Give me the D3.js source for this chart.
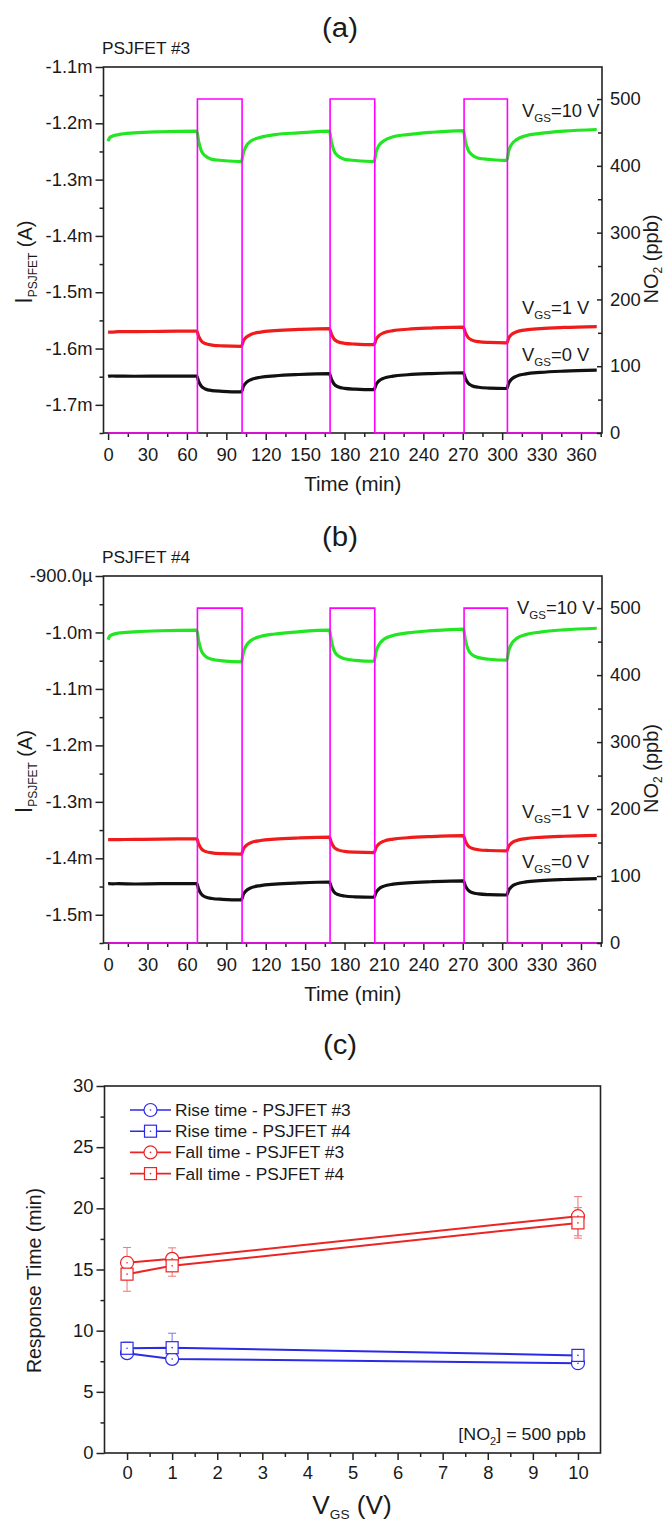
<!DOCTYPE html>
<html>
<head>
<meta charset="utf-8">
<script src="https://cdn.jsdelivr.net/npm/d3@7"></script>
<style>
  body { margin: 0; background: #fff; }
  svg { display: block; }
  text { font-family: "Liberation Sans", Arial, sans-serif; fill: #1a1a1a; }
</style>
</head>
<body>
<svg id="chart" width="670" height="1526"></svg>
<script>
// ---------- data ----------
// sample times (min) shared by all six current traces
const timeKnots = [
  0, 1, 3, 8, 20, 40, 67.5,
  69, 71, 74, 79, 87, 101.5,
  103, 105, 109, 116, 127, 145, 168.5,
  170, 172, 175, 180, 188, 202.5,
  204, 206, 210, 217, 228, 246, 270.5,
  272, 274, 277, 282, 290, 303.5,
  305, 307, 311, 318, 329, 347, 372
];

// PSJFET #3, current in mA
const greenA = [
  -1.232, -1.226, -1.223, -1.220, -1.217, -1.215, -1.214,
  -1.233, -1.249, -1.258, -1.264, -1.266, -1.268,
  -1.252, -1.241, -1.231, -1.225, -1.220, -1.217, -1.214,
  -1.233, -1.249, -1.258, -1.264, -1.266, -1.268,
  -1.251, -1.240, -1.231, -1.224, -1.220, -1.216, -1.213,
  -1.232, -1.247, -1.256, -1.262, -1.264, -1.266,
  -1.249, -1.238, -1.229, -1.222, -1.218, -1.214, -1.211
];
const redA = [
  -1.571, -1.571, -1.571, -1.570, -1.570, -1.5695, -1.569,
  -1.5785, -1.5866, -1.5911, -1.5938, -1.5952, -1.596,
  -1.5865, -1.5803, -1.5746, -1.5708, -1.5683, -1.5661, -1.5645,
  -1.5745, -1.583, -1.5879, -1.5907, -1.5921, -1.593,
  -1.5837, -1.5775, -1.5719, -1.5682, -1.5657, -1.5636, -1.562,
  -1.5718, -1.5802, -1.585, -1.5878, -1.5892, -1.590,
  -1.5813, -1.5755, -1.5703, -1.5668, -1.5645, -1.5625, -1.561
];
const blackA = [
  -1.6495, -1.649, -1.6488, -1.649, -1.6492, -1.649, -1.6488,
  -1.6586, -1.667, -1.6718, -1.6746, -1.676, -1.677,
  -1.6673, -1.6608, -1.6549, -1.651, -1.6484, -1.6461, -1.6445,
  -1.6545, -1.663, -1.6679, -1.6707, -1.6721, -1.673,
  -1.664, -1.658, -1.6526, -1.649, -1.6466, -1.6445, -1.643,
  -1.6528, -1.6612, -1.666, -1.6688, -1.6702, -1.671,
  -1.6613, -1.6548, -1.6489, -1.645, -1.6424, -1.6401, -1.6385
];

// PSJFET #4, current in mA
const greenB = [
  -1.013, -1.007, -1.004, -1.001, -0.999, -0.997, -0.996,
  -1.0156, -1.0324, -1.0419, -1.0475, -1.0503, -1.052,
  -1.0352, -1.024, -1.0139, -1.0072, -1.0027, -0.9988, -0.996,
  -1.0153, -1.0318, -1.0411, -1.0466, -1.0494, -1.051,
  -1.0339, -1.0225, -1.0122, -1.0054, -1.0008, -0.9969, -0.994,
  -1.0133, -1.0298, -1.0391, -1.0446, -1.0474, -1.049,
  -1.032, -1.0208, -1.0106, -1.0038, -0.9993, -0.9953, -0.9925
];
const redB = [
  -1.367, -1.367, -1.367, -1.3668, -1.3665, -1.366, -1.3655,
  -1.375, -1.383, -1.3877, -1.3903, -1.3917, -1.3925,
  -1.3835, -1.3775, -1.3721, -1.3685, -1.3661, -1.364, -1.3625,
  -1.3721, -1.3804, -1.3851, -1.3878, -1.3892, -1.390,
  -1.381, -1.375, -1.3696, -1.366, -1.3636, -1.3615, -1.360,
  -1.3695, -1.3776, -1.3821, -1.3848, -1.3862, -1.387,
  -1.3788, -1.3733, -1.3683, -1.365, -1.3628, -1.3609, -1.3595
];
const blackB = [
  -1.445, -1.4448, -1.4452, -1.445, -1.4455, -1.445, -1.445,
  -1.455, -1.4635, -1.4684, -1.4712, -1.4726, -1.4735,
  -1.464, -1.4578, -1.452, -1.4483, -1.4458, -1.4436, -1.442,
  -1.4515, -1.4596, -1.4641, -1.4668, -1.4682, -1.469,
  -1.4603, -1.4545, -1.4493, -1.4458, -1.4435, -1.4415, -1.440,
  -1.4488, -1.4563, -1.4605, -1.463, -1.4643, -1.465,
  -1.4563, -1.4505, -1.4453, -1.4418, -1.4395, -1.4375, -1.436
];

// NO2 exposure (ppb)
const pulseOn = [68, 169, 271];
const pulseOff = [102, 203, 304];
const pulseLevel = 500;
const traceEnd = 372;

// axes of the two time panels
const timeDomain = [-3.5, 376];
const timeTicks = [0, 30, 60, 90, 120, 150, 180, 210, 240, 270, 300, 330, 360];
const timeMinor = [15, 45, 75, 105, 135, 165, 195, 225, 255, 285, 315, 345, 375];
const no2Domain = [0, 548];
const no2Ticks = [0, 100, 200, 300, 400, 500];
const no2Minor = [50, 150, 250, 350, 450];

const currentDomainA = [-1.75, -1.1];
const currentTicksA = [-1.7, -1.6, -1.5, -1.4, -1.3, -1.2, -1.1];
const currentLabelsA = ["-1.7m", "-1.6m", "-1.5m", "-1.4m", "-1.3m", "-1.2m", "-1.1m"];
const currentMinorA = [-1.75, -1.65, -1.55, -1.45, -1.35, -1.25, -1.15];

const currentDomainB = [-1.55, -0.9];
const currentTicksB = [-1.5, -1.4, -1.3, -1.2, -1.1, -1.0, -0.9];
const currentLabelsB = ["-1.5m", "-1.4m", "-1.3m", "-1.2m", "-1.1m", "-1.0m", "-900.0\u00b5"];
const currentMinorB = [-1.55, -1.45, -1.35, -1.25, -1.15, -1.05, -0.95];

// response times (min) vs gate voltage
const vgs = [0, 1, 10];
const riseP3 = [8.16, 7.69, 7.34];
const riseP3Err = [0.2, 0.15, 0.15];
const riseP4 = [8.56, 8.61, 7.98];
const riseP4Err = [0.5, 1.18, 0.2];
const fallP3 = [15.55, 15.87, 19.36];
const fallP3Err = [1.25, 0.9, 1.6];
const fallP4 = [14.62, 15.3, 18.81];
const fallP4Err = [1.4, 0.85, 1.25];

const vgsDomain = [-0.5, 10.5];
const vgsTicks = [0, 1, 2, 3, 4, 5, 6, 7, 8, 9, 10];
const vgsMinor = [0.5, 1.5, 2.5, 3.5, 4.5, 5.5, 6.5, 7.5, 8.5, 9.5];
const respDomain = [0, 30];
const respTicks = [0, 5, 10, 15, 20, 25, 30];
const respMinor = [2.5, 7.5, 12.5, 17.5, 22.5, 27.5];

// ---------- drawing ----------
const svg = d3.select("#chart");
const S = 1.05; // the lettering in the figure is a bit wider than the font
const axisColor = "#222";
const green = "#22e622", red = "#ef1c1c", black = "#111", magenta = "#ff00ff";
const blue = "#2b2be6", redC = "#ec2424";
const tickFont = 17.5;

// text made of tspans: parts = [[string, size, dy], ...]
function label(g, x, y, parts, opt = {}) {
	let tf = `translate(${x},${y}) scale(${S},1)`;
	if (opt.rotate) tf += ` rotate(${opt.rotate})`;
	const t = g.append("text")
		.attr("transform", tf)
		.attr("text-anchor", opt.anchor || "start");
	parts.forEach(p => {
		t.append("tspan")
			.attr("font-size", p[1])
			.attr("dy", p[2] || 0)
			.text(p[0]);
	});
	return t;
}

function styleAxis(sel) {
	sel.select(".domain").remove();
	sel.attr("font-family", null).attr("font-size", tickFont).attr("color", axisColor);
	sel.selectAll(".tick line").attr("stroke-width", 1.5);
	sel.selectAll(".tick text").each(function () {
		const t = d3.select(this);
		t.attr("x", (+t.attr("x") || 0) / S).attr("transform", `scale(${S},1)`);
	});
}

const vLabel = (eq) => [["V", 17.5], ["GS", 11, 5], [eq, 17.5, -5]];

function timePanel(p) {
	const left = 103.5, right = 602;
	const g = svg.append("g");
	const x = d3.scaleLinear().domain(timeDomain).range([left, right]);
	const y = d3.scaleLinear().domain(p.yDomain).range([p.bottom, p.top]);
	const y2 = d3.scaleLinear().domain(no2Domain).range([p.bottom, p.top]);

	// axes
	g.append("g").attr("transform", `translate(${left},0)`)
		.call(d3.axisLeft(y).tickValues(p.yTicks).tickFormat((d, i) => p.yLabels[i]).tickSize(8).tickPadding(3))
		.call(styleAxis);
	g.append("g").attr("transform", `translate(${left},0)`)
		.call(d3.axisLeft(y).tickValues(p.yMinor).tickFormat("").tickSize(4))
		.call(styleAxis);
	g.append("g").attr("transform", `translate(${right},0)`)
		.call(d3.axisRight(y2).tickValues(no2Ticks).tickSize(-5).tickPadding(8))
		.call(styleAxis);
	g.append("g").attr("transform", `translate(${right},0)`)
		.call(d3.axisRight(y2).tickValues(no2Minor).tickFormat("").tickSize(-4))
		.call(styleAxis);
	g.append("g").attr("transform", `translate(0,${p.bottom})`)
		.call(d3.axisBottom(x).tickValues(timeTicks).tickSize(7).tickPadding(9))
		.call(styleAxis);
	g.append("g").attr("transform", `translate(0,${p.bottom})`)
		.call(d3.axisBottom(x).tickValues(timeMinor).tickFormat("").tickSize(4))
		.call(styleAxis);

	g.append("rect")
		.attr("x", left).attr("y", p.top)
		.attr("width", right - left).attr("height", p.bottom - p.top)
		.attr("fill", "none").attr("stroke", axisColor).attr("stroke-width", 1.6);

	// current traces
	const line = d3.line()
		.x((d, i) => x(timeKnots[i]))
		.y(d => y(d))
		.curve(d3.curveMonotoneX);
	p.curves.forEach(c => {
		g.append("path")
			.attr("d", line(c.values))
			.attr("fill", "none")
			.attr("stroke", c.color)
			.attr("stroke-width", 3.2)
			.attr("stroke-linejoin", "round");
	});

	// NO2 square pulses
	const pts = [[0, 0]];
	pulseOn.forEach((on, i) => {
		pts.push([on, 0], [on, pulseLevel], [pulseOff[i], pulseLevel], [pulseOff[i], 0]);
	});
	pts.push([traceEnd, 0]);
	g.append("path")
		.attr("d", d3.line().x(d => x(d[0])).y(d => y2(d[1]))(pts))
		.attr("fill", "none")
		.attr("stroke", magenta)
		.attr("stroke-width", 1.6);

	// text
	label(g, 340, p.top - 30, [[p.tag, 28]], { anchor: "middle" });
	label(g, 102, p.top - 13.5, [[p.device, 16.5]]);
	label(g, 32, (p.top + p.bottom) / 2 + 12, [["I", 22], ["PSJFET", 12, 5], [" (A)", 20, -5]], { anchor: "middle", rotate: -90 });
	label(g, 658, (p.top + p.bottom) / 2 + 9, [["NO", 20], ["2", 12, 4], [" (ppb)", 20, -4]], { anchor: "middle", rotate: -90 });
	label(g, (left + right) / 2, p.bottom + 58, [["Time (min)", 19.5]], { anchor: "middle" });
	p.vLabels.forEach(v => label(g, v.x, v.y, vLabel(v.text)));
}

timePanel({
	top: 67, bottom: 433, tag: "(a)", device: "PSJFET #3",
	yDomain: currentDomainA, yTicks: currentTicksA, yLabels: currentLabelsA, yMinor: currentMinorA,
	curves: [
		{ values: greenA, color: green },
		{ values: redA, color: red },
		{ values: blackA, color: black }
	],
	vLabels: [
		{ x: 522, y: 117, text: "=10 V" },
		{ x: 522, y: 314, text: "=1 V" },
		{ x: 522, y: 361, text: "=0 V" }
	]
});

timePanel({
	top: 576, bottom: 943, tag: "(b)", device: "PSJFET #4",
	yDomain: currentDomainB, yTicks: currentTicksB, yLabels: currentLabelsB, yMinor: currentMinorB,
	curves: [
		{ values: greenB, color: green },
		{ values: redB, color: red },
		{ values: blackB, color: black }
	],
	vLabels: [
		{ x: 517, y: 614, text: "=10 V" },
		{ x: 522, y: 818, text: "=1 V" },
		{ x: 522, y: 868, text: "=0 V" }
	]
});

// ---------- (c) response time ----------
(function () {
	const left = 104.5, right = 600.5, top = 1086, bottom = 1453;
	const g = svg.append("g");
	const x = d3.scaleLinear().domain(vgsDomain).range([left, right]);
	const y = d3.scaleLinear().domain(respDomain).range([bottom, top]);

	g.append("g").attr("transform", `translate(${left},0)`)
		.call(d3.axisLeft(y).tickValues(respTicks).tickSize(8).tickPadding(3))
		.call(styleAxis);
	g.append("g").attr("transform", `translate(${left},0)`)
		.call(d3.axisLeft(y).tickValues(respMinor).tickFormat("").tickSize(4))
		.call(styleAxis);
	g.append("g").attr("transform", `translate(0,${bottom})`)
		.call(d3.axisBottom(x).tickValues(vgsTicks).tickSize(7).tickPadding(7))
		.call(styleAxis);
	g.append("g").attr("transform", `translate(0,${bottom})`)
		.call(d3.axisBottom(x).tickValues(vgsMinor).tickFormat("").tickSize(4))
		.call(styleAxis);
	g.append("rect")
		.attr("x", left).attr("y", top)
		.attr("width", right - left).attr("height", bottom - top)
		.attr("fill", "none").attr("stroke", axisColor).attr("stroke-width", 1.6);

	const series = [
		{ name: "Rise time - PSJFET #3", values: riseP3, err: riseP3Err, color: blue, light: "#8080f0", shape: "circle" },
		{ name: "Rise time - PSJFET #4", values: riseP4, err: riseP4Err, color: blue, light: "#8080f0", shape: "square" },
		{ name: "Fall time - PSJFET #3", values: fallP3, err: fallP3Err, color: redC, light: "#f08080", shape: "circle" },
		{ name: "Fall time - PSJFET #4", values: fallP4, err: fallP4Err, color: redC, light: "#f08080", shape: "square" }
	];

	const marker = (sel, cx, cy, s) => {
		if (s.shape === "circle") {
			sel.append("circle").attr("cx", cx).attr("cy", cy).attr("r", 6.5);
		} else {
			sel.append("rect").attr("x", cx - 6).attr("y", cy - 6).attr("width", 12).attr("height", 12);
		}
		sel.selectAll("circle, rect").attr("fill", "#fff").attr("stroke", s.color).attr("stroke-width", 1.2);
		sel.append("circle").attr("cx", cx).attr("cy", cy).attr("r", 0.8).attr("fill", s.color);
	};

	// error bars
	series.forEach(s => {
		const eb = g.append("g").attr("stroke", s.light).attr("stroke-width", 1.1);
		s.values.forEach((v, i) => {
			const cx = x(vgs[i]);
			const y0 = y(v - s.err[i]), y1 = y(v + s.err[i]);
			eb.append("line").attr("x1", cx).attr("x2", cx).attr("y1", y0).attr("y2", y1);
			eb.append("line").attr("x1", cx - 4).attr("x2", cx + 4).attr("y1", y0).attr("y2", y0);
			eb.append("line").attr("x1", cx - 4).attr("x2", cx + 4).attr("y1", y1).attr("y2", y1);
		});
	});

	// lines + markers
	const line = d3.line().x((d, i) => x(vgs[i])).y(d => y(d));
	series.forEach(s => {
		g.append("path")
			.attr("d", line(s.values))
			.attr("fill", "none")
			.attr("stroke", s.color)
			.attr("stroke-width", 2);
	});
	series.forEach(s => {
		s.values.forEach((v, i) => marker(g.append("g"), x(vgs[i]), y(v), s));
	});

	// legend
	series.forEach((s, i) => {
		const ly = 1110 + i * 21.2;
		g.append("line").attr("x1", 130).attr("x2", 171).attr("y1", ly).attr("y2", ly)
			.attr("stroke", s.color).attr("stroke-width", 1.6);
		marker(g.append("g"), 150.5, ly, s);
		label(g, 175, ly + 6, [[s.name, 16.5]]);
	});

	label(g, 586, 1440, [["[NO", 17], ["2", 10.5, 5], ["] = 500 ppb", 17, -5]], { anchor: "end" });
	label(g, 340, top - 32, [["(c)", 28]], { anchor: "middle" });
	label(g, 41, (top + bottom) / 2 + 11, [["Response Time (min)", 19.5]], { anchor: "middle", rotate: -90 });
	label(g, 352, 1514, [["V", 25], ["GS", 13, 5], [" (V)", 25, -5]], { anchor: "middle" });
})();
</script>
</body>
</html>
